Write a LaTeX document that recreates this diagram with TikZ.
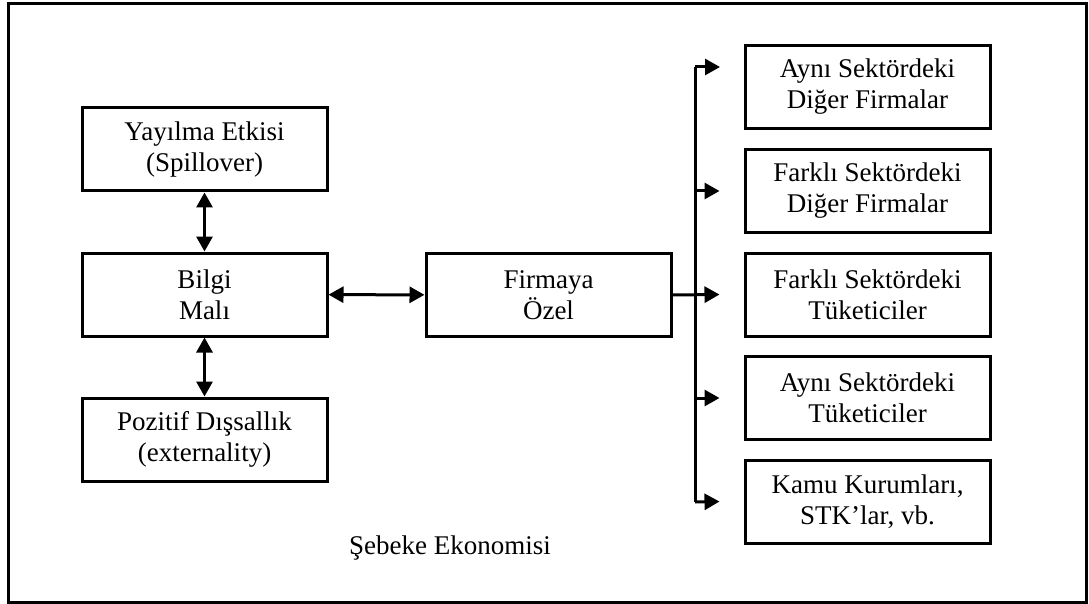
\documentclass[tikz,border=0pt]{standalone}
\usepackage{fontspec}
\setmainfont{Liberation Serif}
\usetikzlibrary{arrows.meta}
\begin{document}
\begin{tikzpicture}[x=1pt,y=-1pt,>={Triangle[length=15pt,width=16pt]},
  kutu/.style={rectangle,draw=black,line width=3pt,minimum width=245pt,minimum height=83pt,align=center,font=\fontsize{27}{31}\selectfont,inner sep=0pt},
  ok/.style={->,line width=3pt},
  cift/.style={<->,line width=3pt}]
\useasboundingbox (0,0) rectangle (1089,604);
\draw[line width=3pt] (8,4) rectangle (1086,602);
\node[kutu] (yay) at (204.5,149.5) {Yayılma Etkisi\\(Spillover)};
\node[kutu] (bilgi) at (204.5,294.5) {Bilgi\\Malı};
\node[kutu] (poz) at (204.5,439.5) {Pozitif Dışsallık\\(externality)};
\node[kutu] (firma) at (548.5,295) {Firmaya\\Özel};
\node[kutu] (r1) at (867.5,87) {Aynı Sektördeki\\Diğer Firmalar};
\node[kutu] (r2) at (867.5,191) {Farklı Sektördeki\\Diğer Firmalar};
\node[kutu] (r3) at (867.5,294.5) {Farklı Sektördeki\\Tüketiciler};
\node[kutu] (r4) at (867.5,398) {Aynı Sektördeki\\Tüketiciler};
\node[kutu] (r5) at (867.5,501.5) {Kamu Kurumları,\\STK’lar, vb.};
\node[font=\fontsize{27}{31}\selectfont] (sebeke) at (450,548) {Şebeke Ekonomisi};
\draw[cift] (yay) -- (bilgi);
\draw[cift] (bilgi) -- (poz);
\draw[cift] (bilgi) -- (firma);
% dagitim hatti
\coordinate (busT) at (695,67);
\coordinate (busB) at (695,502);
\draw[line width=3pt] (busT) -- (busB);
\draw[ok] (busT) -- ++(25,0);
\draw[ok] (busT|-r2.west) -- ([xshift=-24pt]r2.west);
\draw[ok] (firma.east) -- ([xshift=-24pt]r3.west);
\draw[ok] (busT|-r4.west) -- ([xshift=-24pt]r4.west);
\draw[ok] (busB) -- ([xshift=-24pt]r5.west);
\end{tikzpicture}
\end{document}
